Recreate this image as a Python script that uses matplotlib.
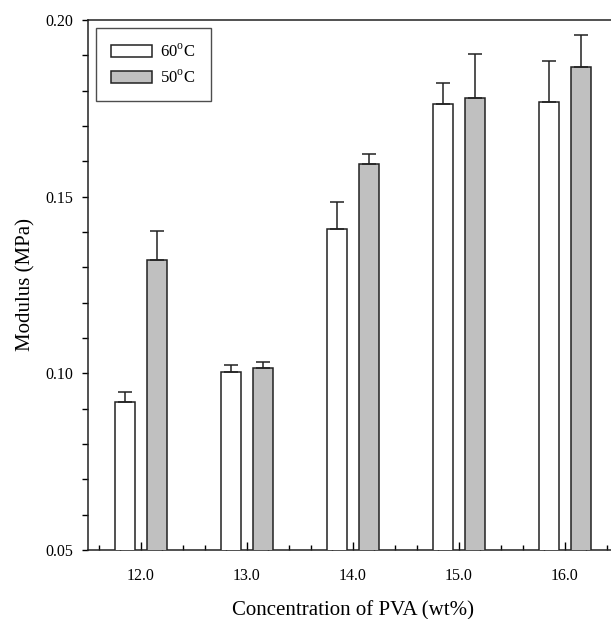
import numpy as np
import matplotlib
matplotlib.use("Agg")
import matplotlib.pyplot as plt
from matplotlib.ticker import MultipleLocator, FormatStrFormatter

plt.rcParams['font.family'] = ['Liberation Serif', 'DejaVu Serif']
plt.rcParams['mathtext.fontset'] = 'custom'
plt.rcParams['mathtext.rm'] = 'Liberation Serif'

# data
conc = [12.0, 13.0, 14.0, 15.0, 16.0]
mod_60 = [0.0920, 0.1004, 0.1408, 0.1761, 0.1768]
err_60 = [0.0026, 0.0019, 0.0078, 0.0062, 0.0117]
mod_50 = [0.1321, 0.1014, 0.1593, 0.1778, 0.1868]
err_50 = [0.0083, 0.0017, 0.0028, 0.0127, 0.0090]

W = 0.185
OFF = 0.152

fig = plt.figure(figsize=(6.11, 6.19), dpi=100)
ax = fig.add_axes([0.144, 0.1115, 0.8674, 0.8562])

x = np.array(conc)
ekw = dict(elinewidth=1.1, capthick=1.1, ecolor='#222222')
ax.bar(x - OFF, mod_60, W, color='white', edgecolor='#222222', linewidth=1.1,
       yerr=[np.zeros(5), err_60], capsize=5, error_kw=ekw, label='60$^\\mathrm{o}$C', zorder=3)
ax.bar(x + OFF, mod_50, W, color='#c0c0c0', edgecolor='#222222', linewidth=1.1,
       yerr=[np.zeros(5), err_50], capsize=5, error_kw=ekw, label='50$^\\mathrm{o}$C', zorder=3)

ax.set_xlim(11.5, 16.5)
ax.set_ylim(0.05, 0.20)
ax.set_axisbelow(True)

ax.xaxis.set_major_locator(MultipleLocator(1.0))
ax.xaxis.set_minor_locator(MultipleLocator(0.2))
ax.xaxis.set_major_formatter(FormatStrFormatter('%.1f'))
ax.yaxis.set_major_locator(MultipleLocator(0.05))
ax.yaxis.set_minor_locator(MultipleLocator(0.01))
ax.yaxis.set_major_formatter(FormatStrFormatter('%.2f'))

ax.tick_params(axis='x', which='major', direction='in', length=6, width=1, labelsize=11.5, pad=13)
ax.tick_params(axis='x', which='minor', direction='in', length=3.5, width=1)
ax.tick_params(axis='y', which='both', direction='out', length=4.5, width=1, labelsize=11.5, pad=6)

for s in ax.spines.values():
    s.set_linewidth(1.1)
    s.set_color('#222222')

ax.set_xlabel('Concentration of PVA (wt%)', fontsize=15, labelpad=12)
ax.set_ylabel('Modulus (MPa)', fontsize=15, labelpad=7)

leg = ax.legend(loc='upper left', fontsize=12, frameon=True, fancybox=False,
                edgecolor='#222222', handlelength=2.45, handleheight=0.75,
                borderpad=0.9, labelspacing=0.5, handletextpad=0.5, borderaxespad=0.5)
leg.get_frame().set_linewidth(1.0)

fig.savefig('out.png', dpi=100)
